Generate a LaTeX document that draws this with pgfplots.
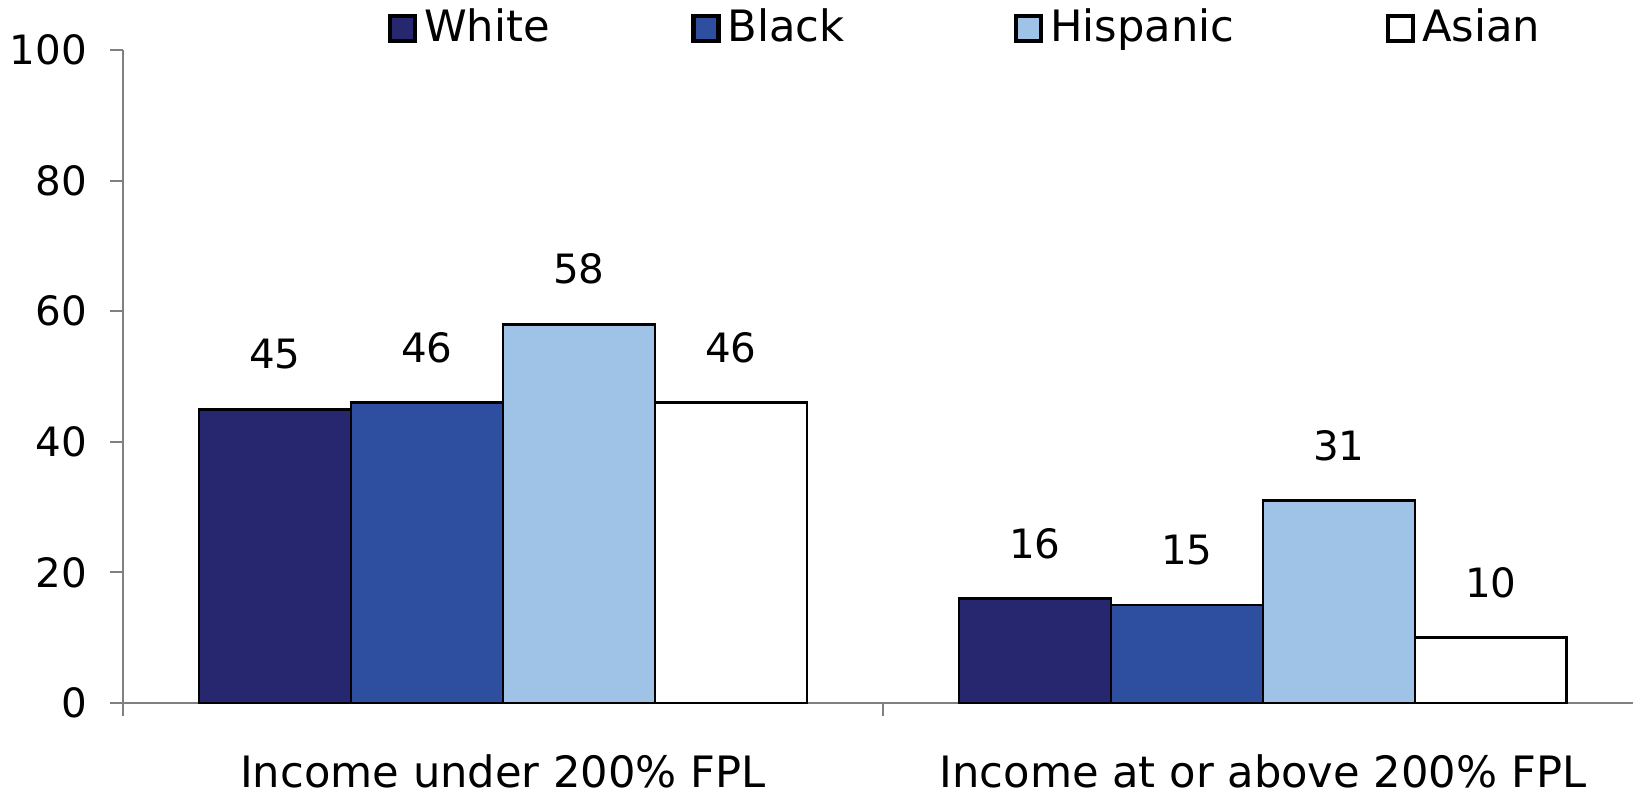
\documentclass[border=0pt]{standalone}
\usepackage{fontspec}
\setmainfont{DejaVu Sans}
\usepackage{pgfplots}
\pgfplotsset{compat=1.18}
\pgfplotsset{/pgf/number format/assume math mode=true}
\definecolor{cW}{HTML}{26276E}
\definecolor{cB}{HTML}{2E4FA0}
\definecolor{cH}{HTML}{9FC3E7}
\definecolor{cA}{HTML}{FFFFFF}
\definecolor{axgray}{HTML}{808080}
\begin{document}
\fontsize{11.5}{14}\selectfont
\begin{tikzpicture}
\begin{axis}[name=ax, scale only axis, width=15.10cm, height=6.53cm,
  xmin=-0.5, xmax=1.487, ymin=0, ymax=100,
  ytick={0,20,...,100},
  xtick={-0.5,0.5}, xticklabels={},
  extra x ticks={0,1},
  extra x tick labels={Income under 200\% FPL, Income at or above 200\% FPL},
  extra x tick style={major tick length=0pt, xticklabel style={yshift=-0.37cm, font=\fontsize{12.3}{15}\selectfont}},
  axis x line*=bottom, axis y line*=left,
  axis line style={draw=axgray, line width=0.6pt, -},
  tick style={draw=axgray, line width=0.6pt},
  tick align=outside, major tick length=0.13cm,
  ticklabel style={font=\fontsize{11.5}{14}\selectfont},
  yticklabel style={xshift=-0.09cm},
  ybar=0pt, bar width=0.2,
  nodes near coords,
  every node near coord/.append style={anchor=center, yshift=0.55cm, font=\fontsize{11.5}{14}\selectfont, black},
  legend columns=4,
  legend style={at={(0.175,1.033)}, anchor=west, draw=none, fill=none, inner sep=0pt,
    font=\fontsize{12.3}{15}\selectfont, /tikz/every even column/.append style={column sep=1.345cm}},
  legend image code/.code={\draw[#1, line width=1.2pt] (0cm,-0.125cm) rectangle (0.25cm,0.125cm);},
  clip=false,
]
\addplot[fill=cW, draw=black, line width=0.8pt] coordinates {(0,45) (1,16)};
\addplot[fill=cB, draw=black, line width=0.8pt] coordinates {(0,46) (1,15)};
\addplot[fill=cH, draw=black, line width=0.8pt] coordinates {(0,58) (1,31)};
\addplot[fill=cA, draw=black, line width=0.8pt] coordinates {(0,46) (1,10)};
\legend{White, Black\rule{0.28cm}{0pt}, Hispanic\rule{0.10cm}{0pt}, Asian}
\end{axis}
\pgfresetboundingbox
\path ([shift={(-1.23cm,-0.90cm)}]ax.south west) rectangle ([shift={(0cm,0.50cm)}]ax.north east);
\end{tikzpicture}
\end{document}
